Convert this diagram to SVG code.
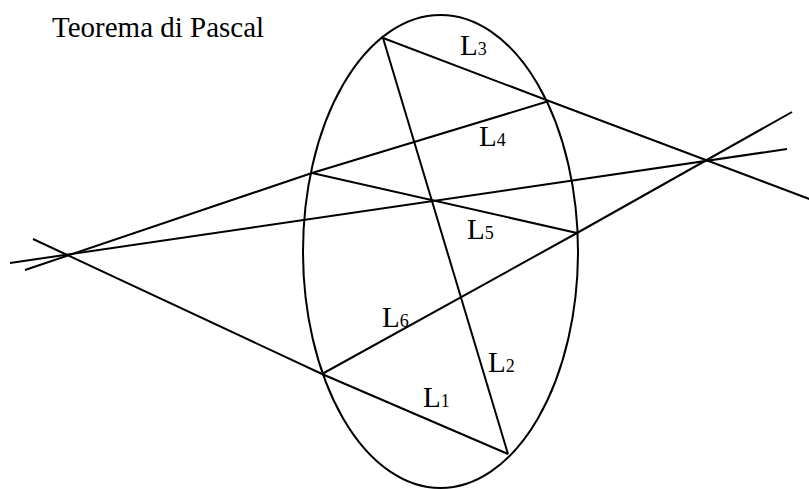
<svg xmlns="http://www.w3.org/2000/svg" width="809" height="489" viewBox="0 0 809 489">
<style>
.ln{fill:none;stroke:#000;stroke-width:2;stroke-linejoin:miter}
.t{font-family:"Liberation Serif","Times New Roman",serif;font-size:29px;fill:#000}
.s{font-size:18px}
</style>
<rect width="809" height="489" fill="#fff"/>
<text class="t" x="52" y="37">Teorema di Pascal</text>
<g id="conic">
<ellipse class="ln" cx="440.5" cy="251.5" rx="137.5" ry="236.5"/>
</g>
<g id="connectors">
<polyline class="ln" points="33,239 322,374 508,454"/>
<line class="ln" x1="383" y1="38" x2="508" y2="454"/>
<polyline class="ln" points="383,38 549,101 812,200"/>
<polyline class="ln" points="25,270 312,173 549,101"/>
<line class="ln" x1="312" y1="173" x2="577" y2="233"/>
<polyline class="ln" points="322,374 577,233 792,112"/>
<line class="ln" x1="10" y1="263" x2="787" y2="149"/>
</g>
<g id="labels">
<text class="t" x="423" y="407">L<tspan class="s">1</tspan></text>
<text class="t" x="488" y="372">L<tspan class="s">2</tspan></text>
<text class="t" x="460" y="55">L<tspan class="s">3</tspan></text>
<text class="t" x="479" y="146">L<tspan class="s">4</tspan></text>
<text class="t" x="467" y="239">L<tspan class="s">5</tspan></text>
<text class="t" x="382" y="327">L<tspan class="s">6</tspan></text>
</g>
</svg>
